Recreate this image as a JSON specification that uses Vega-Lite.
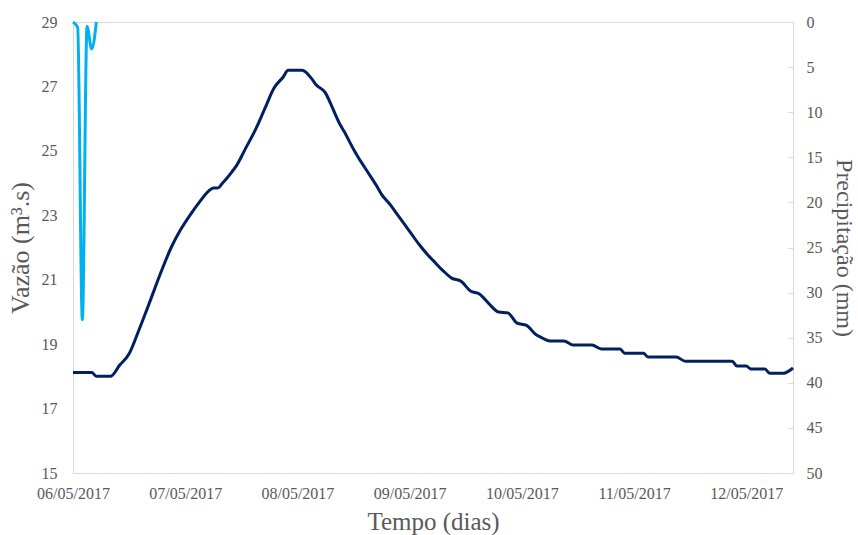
{
  "$schema": "https://vega.github.io/schema/vega-lite/v6.json",
  "width": 720,
  "height": 451,
  "autosize": {"type": "none"},
  "padding": {"left": 73, "top": 22, "right": 65, "bottom": 62},
  "background": "white",
  "config": {
    "view": {"stroke": "#d9d9d9", "strokeWidth": 1},
    "font": "Liberation Serif",
    "axis": {
      "labelFont": "Liberation Serif",
      "titleFont": "Liberation Serif",
      "labelColor": "#595959",
      "titleColor": "#595959",
      "titleFontWeight": "normal",
      "domainColor": "#d9d9d9",
      "tickColor": "#d9d9d9",
      "grid": false,
      "labelFontSize": 16,
      "titleFontSize": 26
    }
  },
  "datasets": {
    "vazao": [
      {"t": "2017-05-06T00:00:00Z", "vazao": 18.12},
      {"t": "2017-05-06T04:00:00Z", "vazao": 18.12},
      {"t": "2017-05-06T05:00:00Z", "vazao": 18.0},
      {"t": "2017-05-06T08:00:00Z", "vazao": 18.0},
      {"t": "2017-05-06T10:00:00Z", "vazao": 18.35},
      {"t": "2017-05-06T12:00:00Z", "vazao": 18.7},
      {"t": "2017-05-06T14:00:00Z", "vazao": 19.4},
      {"t": "2017-05-06T16:00:00Z", "vazao": 20.15},
      {"t": "2017-05-06T19:00:00Z", "vazao": 21.3},
      {"t": "2017-05-06T21:00:00Z", "vazao": 22.0},
      {"t": "2017-05-06T23:00:00Z", "vazao": 22.55},
      {"t": "2017-05-07T01:00:00Z", "vazao": 23.0},
      {"t": "2017-05-07T03:00:00Z", "vazao": 23.4},
      {"t": "2017-05-07T05:00:00Z", "vazao": 23.75},
      {"t": "2017-05-07T06:00:00Z", "vazao": 23.85},
      {"t": "2017-05-07T07:00:00Z", "vazao": 23.85},
      {"t": "2017-05-07T08:00:00Z", "vazao": 24.0},
      {"t": "2017-05-07T10:00:00Z", "vazao": 24.35},
      {"t": "2017-05-07T11:00:00Z", "vazao": 24.55},
      {"t": "2017-05-07T13:00:00Z", "vazao": 25.1},
      {"t": "2017-05-07T15:00:00Z", "vazao": 25.65},
      {"t": "2017-05-07T17:00:00Z", "vazao": 26.3},
      {"t": "2017-05-07T19:00:00Z", "vazao": 26.95},
      {"t": "2017-05-07T21:00:00Z", "vazao": 27.3},
      {"t": "2017-05-07T22:00:00Z", "vazao": 27.5},
      {"t": "2017-05-08T01:00:00Z", "vazao": 27.5},
      {"t": "2017-05-08T03:00:00Z", "vazao": 27.25},
      {"t": "2017-05-08T04:00:00Z", "vazao": 27.05},
      {"t": "2017-05-08T06:00:00Z", "vazao": 26.8},
      {"t": "2017-05-08T07:00:00Z", "vazao": 26.5},
      {"t": "2017-05-08T09:00:00Z", "vazao": 25.85},
      {"t": "2017-05-08T10:00:00Z", "vazao": 25.6},
      {"t": "2017-05-08T12:00:00Z", "vazao": 25.05},
      {"t": "2017-05-08T13:00:00Z", "vazao": 24.8},
      {"t": "2017-05-08T15:00:00Z", "vazao": 24.35},
      {"t": "2017-05-08T17:00:00Z", "vazao": 23.9},
      {"t": "2017-05-08T18:00:00Z", "vazao": 23.65},
      {"t": "2017-05-08T20:00:00Z", "vazao": 23.3},
      {"t": "2017-05-08T21:00:00Z", "vazao": 23.1},
      {"t": "2017-05-08T23:00:00Z", "vazao": 22.7},
      {"t": "2017-05-09T00:00:00Z", "vazao": 22.5},
      {"t": "2017-05-09T02:00:00Z", "vazao": 22.1},
      {"t": "2017-05-09T04:00:00Z", "vazao": 21.75},
      {"t": "2017-05-09T05:00:00Z", "vazao": 21.6},
      {"t": "2017-05-09T07:00:00Z", "vazao": 21.3},
      {"t": "2017-05-09T09:00:00Z", "vazao": 21.05},
      {"t": "2017-05-09T11:00:00Z", "vazao": 20.95},
      {"t": "2017-05-09T13:00:00Z", "vazao": 20.65},
      {"t": "2017-05-09T15:00:00Z", "vazao": 20.55},
      {"t": "2017-05-09T17:00:00Z", "vazao": 20.25},
      {"t": "2017-05-09T19:00:00Z", "vazao": 20.0},
      {"t": "2017-05-09T21:00:00Z", "vazao": 19.97},
      {"t": "2017-05-09T23:00:00Z", "vazao": 19.65},
      {"t": "2017-05-10T01:00:00Z", "vazao": 19.58},
      {"t": "2017-05-10T03:00:00Z", "vazao": 19.3},
      {"t": "2017-05-10T04:00:00Z", "vazao": 19.22},
      {"t": "2017-05-10T06:00:00Z", "vazao": 19.1},
      {"t": "2017-05-10T09:00:00Z", "vazao": 19.1},
      {"t": "2017-05-10T11:00:00Z", "vazao": 18.97},
      {"t": "2017-05-10T15:00:00Z", "vazao": 18.97},
      {"t": "2017-05-10T17:00:00Z", "vazao": 18.85},
      {"t": "2017-05-10T21:00:00Z", "vazao": 18.85},
      {"t": "2017-05-10T22:00:00Z", "vazao": 18.72},
      {"t": "2017-05-11T02:00:00Z", "vazao": 18.72},
      {"t": "2017-05-11T03:00:00Z", "vazao": 18.6},
      {"t": "2017-05-11T09:00:00Z", "vazao": 18.6},
      {"t": "2017-05-11T11:00:00Z", "vazao": 18.47},
      {"t": "2017-05-11T21:00:00Z", "vazao": 18.47},
      {"t": "2017-05-11T22:00:00Z", "vazao": 18.32},
      {"t": "2017-05-12T00:00:00Z", "vazao": 18.32},
      {"t": "2017-05-12T01:00:00Z", "vazao": 18.23},
      {"t": "2017-05-12T04:00:00Z", "vazao": 18.23},
      {"t": "2017-05-12T05:00:00Z", "vazao": 18.1},
      {"t": "2017-05-12T08:00:00Z", "vazao": 18.1},
      {"t": "2017-05-12T10:00:00Z", "vazao": 18.26}
    ],
    "precip": [
      {"t": "2017-05-06T00:00:00Z", "precipitacao": 0},
      {"t": "2017-05-06T01:00:00Z", "precipitacao": 0.6},
      {"t": "2017-05-06T02:00:00Z", "precipitacao": 33},
      {"t": "2017-05-06T03:00:00Z", "precipitacao": 0.5},
      {"t": "2017-05-06T04:00:00Z", "precipitacao": 3},
      {"t": "2017-05-06T05:00:00Z", "precipitacao": 0}
    ]
  },
  "layer": [
    {
      "data": {"name": "vazao"},
      "mark": {"type": "line", "color": "#002060", "strokeWidth": 3, "interpolate": "monotone"},
      "encoding": {
        "x": {
          "field": "t",
          "type": "temporal",
          "scale": {
            "type": "utc",
            "domain": [
              {"year": 2017, "month": 5, "date": 6, "utc": true},
              {"year": 2017, "month": 5, "date": 12, "hours": 10, "utc": true}
            ]
          },
          "axis": {
            "title": "Tempo (dias)",
            "titleFontSize": 25,
            "values": [
              {"year": 2017, "month": 5, "date": 6, "utc": true},
              {"year": 2017, "month": 5, "date": 7, "utc": true},
              {"year": 2017, "month": 5, "date": 8, "utc": true},
              {"year": 2017, "month": 5, "date": 9, "utc": true},
              {"year": 2017, "month": 5, "date": 10, "utc": true},
              {"year": 2017, "month": 5, "date": 11, "utc": true},
              {"year": 2017, "month": 5, "date": 12, "utc": true}
            ],
            "labelExpr": "utcFormat(datum.value, '%d/%m/%Y')",
            "ticks": false,
            "labelPadding": 12,
            "labelFlush": false,
            "labelOverlap": false,
            "titlePadding": 8
          }
        },
        "y": {
          "field": "vazao",
          "type": "quantitative",
          "scale": {"domain": [15, 29], "nice": false, "zero": false},
          "axis": {
            "title": "Vazão (m³.s)",
            "values": [15, 17, 19, 21, 23, 25, 27, 29],
            "ticks": false,
            "labelPadding": 16,
            "titlePadding": 8
          }
        }
      }
    },
    {
      "data": {"name": "precip"},
      "mark": {"type": "line", "color": "#00b0f0", "strokeWidth": 3, "interpolate": "monotone"},
      "encoding": {
        "x": {"field": "t", "type": "temporal"},
        "y": {
          "field": "precipitacao",
          "type": "quantitative",
          "scale": {"domain": [0, 50], "reverse": true, "nice": false},
          "axis": {
            "orient": "right",
            "title": "Precipitação (mm)",
            "titleFontSize": 24,
            "values": [0, 5, 10, 15, 20, 25, 30, 35, 40, 45, 50],
            "tickSize": -5,
            "labelPadding": 18,
            "titlePadding": 9
          }
        }
      }
    }
  ],
  "resolve": {"scale": {"y": "independent"}}
}
